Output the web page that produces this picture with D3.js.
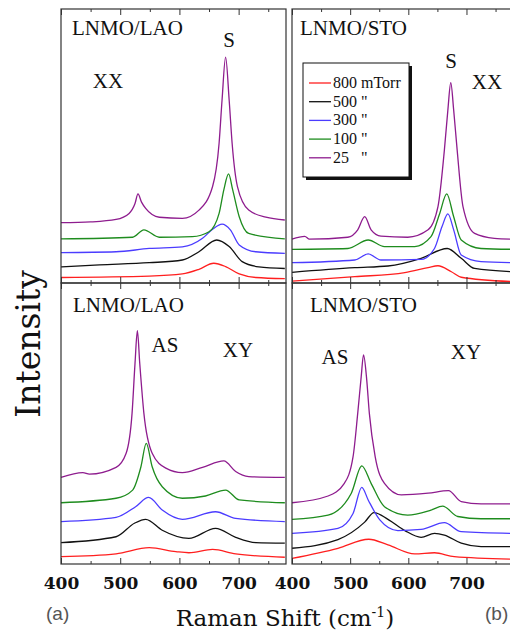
<!DOCTYPE html>
<html>
<head>
<meta charset="utf-8">
<script src="https://cdn.jsdelivr.net/npm/d3@7/dist/d3.min.js"></script>
<style>
  body { margin: 0; background: #fff; }
  svg { display: block; }
</style>
</head>
<body>
<div id="chart"></div>
<script>
// pressures, one curve each, bottom to top
var pressures = ['800 mTorr', '500 "', '300 "', '100 "', '25   "'];
var colors = ['#ff1f1f', '#111111', '#4b3cff', '#1e8c1e', '#8e1c8e'];
var majorTicks = [400, 500, 600, 700];
var minorTicks = [450, 550, 650, 750];

// LNMO/LAO, XX  [wavenumber, intensity incl. offset]
var laoXX_800 = [[400,2.0],[549,2.5],[605,3.3],[633,5.0],[658,7.2],[678,6.0],[701,3.3],[729,2.0],[778,1.6]];
var laoXX_500 = [[400,5.9],[465,6.6],[549,7.4],[605,8.4],[633,11.4],[663,15.7],[684,13.3],[706,7.8],[734,5.9],[778,5.3]];
var laoXX_300 = [[400,11.1],[493,11.4],[549,12.6],[605,13.2],[639,16.3],[656,19.6],[672,21.5],[686,19.4],[701,13.9],[729,11.4],[778,10.8]];
var laoXX_100 = [[400,16.1],[521,16.7],[540,19.4],[566,16.7],[622,16.9],[650,18.7],[667,25.4],[675,34.0],[683,39.8],[690,34.0],[701,24.2],[717,18.1],[778,16.1]];
var laoXX_25 = [[400,22.0],[450,22.3],[493,23.2],[515,25.4],[525,29.0],[530,32.5],[536,29.5],[543,27.2],[566,24.0],[605,23.6],[633,26.6],[656,35.2],[667,51.0],[672,66.8],[678,82.4],[684,66.8],[689,51.0],[698,35.2],[717,26.6],[746,24.0],[778,23.0]];

// LNMO/STO, XX
var stoXX_800 = [[400,0.7],[508,2.3],[594,3.8],[634,5.6],[651,6.3],[674,4.1],[691,2.1],[780,0.5]];
var stoXX_500 = [[400,3.9],[508,5.6],[565,6.2],[622,9.0],[667,12.6],[691,9.0],[714,5.3],[780,4.1]];
var stoXX_300 = [[400,7.4],[508,8.4],[531,10.6],[553,8.4],[622,8.6],[645,12.6],[658,20.6],[668,25.2],[678,19.4],[691,10.2],[725,7.8],[780,7.4]];
var stoXX_100 = [[400,12.3],[496,12.6],[531,15.7],[559,13.3],[611,13.3],[639,16.9],[654,25.4],[666,32.5],[678,24.2],[691,15.7],[725,12.6],[780,12.3]];
var stoXX_25 = [[400,16.0],[422,17.0],[430,16.0],[496,16.7],[513,19.4],[525,24.2],[536,19.4],[553,17.1],[599,16.7],[634,19.4],[651,27.9],[662,48.5],[668,63.1],[673,73.1],[678,63.1],[684,48.5],[694,27.9],[714,18.1],[748,16.3],[780,16.0]];

// LNMO/LAO, XY
var laoXY_800 = [[400,2.6],[493,3.6],[549,5.8],[594,4.4],[616,4.0],[656,5.2],[695,3.6],[778,2.4]];
var laoXY_500 = [[400,7.6],[493,9.7],[524,14.5],[543,15.9],[571,12.0],[616,9.1],[661,12.7],[695,9.5],[729,7.6],[778,7.4]];
var laoXY_300 = [[400,15.1],[493,16.6],[526,20.4],[548,23.7],[571,19.2],[605,15.9],[661,18.6],[695,16.2],[778,15.1]];
var laoXY_100 = [[400,21.8],[493,23.4],[521,26.3],[535,34.6],[544,42.9],[554,34.6],[571,27.5],[605,23.4],[644,24.2],[678,26.3],[701,22.8],[778,21.8]];
var laoXY_25 = [[400,30.8],[437,32.5],[448,32.0],[493,34.4],[510,39.4],[520,53.6],[525,71.4],[529,83.0],[533,71.4],[540,53.6],[554,39.4],[577,34.1],[605,32.5],[639,34.4],[675,36.7],[695,32.9],[717,31.1],[778,30.8]];

// LNMO/STO, XY
var stoXY_800 = [[400,2.0],[479,5.6],[532,8.8],[565,6.8],[611,3.6],[645,4.0],[679,2.6],[780,1.7]];
var stoXY_500 = [[400,5.6],[479,8.7],[525,14.9],[541,18.3],[565,15.9],[594,11.9],[622,9.5],[645,10.9],[662,10.3],[691,7.4],[725,6.2],[780,6.2]];
var stoXY_300 = [[400,10.9],[479,12.7],[505,18.0],[520,27.3],[531,22.8],[551,15.7],[582,11.9],[622,12.3],[662,14.7],[691,11.5],[780,10.9]];
var stoXY_100 = [[400,15.9],[462,17.4],[502,25.2],[520,34.9],[536,28.7],[559,20.4],[599,17.4],[639,19.2],[659,20.6],[685,16.9],[725,16.1],[780,16.1]];
var stoXY_25 = [[400,21.8],[462,24.2],[490,28.7],[505,38.2],[513,53.6],[519,66.7],[523,74.4],[528,66.7],[533,53.6],[543,38.2],[559,28.7],[588,24.6],[634,25.2],[669,26.1],[691,22.2],[725,21.4],[780,21.4]];

var W = 510, H = 635;
var svg = d3.select('#chart').append('svg').attr('width', W).attr('height', H);

var panels = [
  { x0: 61, x1: 286, y0: 9, y1: 283, series: [laoXX_800, laoXX_500, laoXX_300, laoXX_100, laoXX_25], bottomLabels: false,
    notes: [['LNMO/LAO', 72, 35, 'start'], ['S', 229, 47, 'middle'], ['XX', 108, 88, 'middle']] },
  { x0: 292, x1: 513, y0: 9, y1: 283, series: [stoXX_800, stoXX_500, stoXX_300, stoXX_100, stoXX_25], bottomLabels: false, legend: true,
    notes: [['LNMO/STO', 300, 35, 'start'], ['S', 451, 68, 'middle'], ['XX', 487, 89, 'middle']] },
  { x0: 61, x1: 286, y0: 283, y1: 564, series: [laoXY_800, laoXY_500, laoXY_300, laoXY_100, laoXY_25], bottomLabels: true,
    notes: [['LNMO/LAO', 73, 312, 'start'], ['AS', 165, 352, 'middle'], ['XY', 238, 357, 'middle']] },
  { x0: 292, x1: 513, y0: 283, y1: 564, series: [stoXY_800, stoXY_500, stoXY_300, stoXY_100, stoXY_25], bottomLabels: true,
    notes: [['LNMO/STO', 310, 312, 'start'], ['AS', 335, 364, 'middle'], ['XY', 466, 359, 'middle']] }
];

panels.forEach(function(p) {
  var x = d3.scaleLinear().domain([400, 780]).range([p.x0, p.x1]);
  var y = d3.scaleLinear().domain([0, 100]).range([p.y1, p.y0]);
  var g = svg.append('g');

  var line = d3.line()
    .x(function(d) { return x(d[0]); })
    .y(function(d) { return y(d[1]); })
    .curve(d3.curveMonotoneX);

  p.series.forEach(function(s, i) {
    g.append('path').datum(s)
      .attr('d', line)
      .attr('fill', 'none')
      .attr('stroke', colors[i])
      .attr('stroke-width', 1.3);
  });

  g.append('rect')
    .attr('x', p.x0).attr('y', p.y0)
    .attr('width', p.x1 - p.x0).attr('height', p.y1 - p.y0)
    .attr('fill', 'none').attr('stroke', '#333').attr('stroke-width', 1.2);

  // inward ticks, bottom and top
  var bot = g.append('g').attr('transform', 'translate(0,' + p.y1 + ')')
    .call(d3.axisBottom(x).tickValues(majorTicks).tickSize(-6).tickPadding(12));
  g.append('g').attr('transform', 'translate(0,' + p.y1 + ')')
    .call(d3.axisBottom(x).tickValues(minorTicks).tickSize(-3).tickFormat(''));
  g.append('g').attr('transform', 'translate(0,' + p.y0 + ')')
    .call(d3.axisTop(x).tickValues(majorTicks).tickSize(-6).tickFormat(''));
  g.append('g').attr('transform', 'translate(0,' + p.y0 + ')')
    .call(d3.axisTop(x).tickValues(minorTicks).tickSize(-3).tickFormat(''));
  g.selectAll('.domain').remove();
  g.selectAll('.tick line').attr('stroke', '#333');

  if (p.bottomLabels) {
    bot.attr('font-family', null).attr('font-size', null);
    bot.selectAll('text')
      .style('font', 'bold 17px "DejaVu Serif", serif')
      .attr('fill', '#111')
      .attr('dy', '0.78em');
  } else {
    bot.selectAll('text').remove();
  }

  p.notes.forEach(function(n) {
    svg.append('text')
      .attr('x', n[1]).attr('y', n[2]).attr('text-anchor', n[3])
      .style('font', '21px "Liberation Serif", serif').attr('fill', '#111')
      .text(n[0]);
  });

  if (p.legend) {
    var lx = 303, ly = 63, lw = 106, lh = 114;
    svg.append('rect').attr('x', lx + 3).attr('y', ly + 3).attr('width', lw).attr('height', lh).attr('fill', '#111');
    svg.append('rect').attr('x', lx).attr('y', ly).attr('width', lw).attr('height', lh)
      .attr('fill', '#fff').attr('stroke', '#111').attr('stroke-width', 1);
    pressures.forEach(function(name, i) {
      var yy = ly + 20 + i * 18.7;
      svg.append('line').attr('x1', lx + 6).attr('x2', lx + 28).attr('y1', yy).attr('y2', yy)
        .attr('stroke', colors[i]).attr('stroke-width', 1.3);
      svg.append('text').attr('x', lx + 30).attr('y', yy + 5)
        .style('font', '16px "Liberation Serif", serif').attr('fill', '#111').style('white-space', 'pre')
        .text(name);
    });
  }
});

// axis titles
svg.append('text')
  .attr('transform', 'translate(40,344) rotate(-90)')
  .attr('text-anchor', 'middle')
  .style('font', '33px "DejaVu Serif", serif').attr('fill', '#111')
  .text('Intensity');

var xt = svg.append('text')
  .attr('x', 285).attr('y', 626).attr('text-anchor', 'middle')
  .style('font', '23px "DejaVu Serif", serif').attr('fill', '#111');
xt.append('tspan').text('Raman Shift (cm');
xt.append('tspan').attr('dy', -9).style('font-size', '14px').text('-1');
xt.append('tspan').attr('dy', 9).text(')');

svg.append('text').attr('x', 46).attr('y', 620)
  .style('font', '19px "Liberation Sans", sans-serif')
  .attr('fill', '#555').text('(a)');
svg.append('text').attr('x', 485).attr('y', 620)
  .style('font', '19px "Liberation Sans", sans-serif')
  .attr('fill', '#555').text('(b)');
</script>
</body>
</html>
